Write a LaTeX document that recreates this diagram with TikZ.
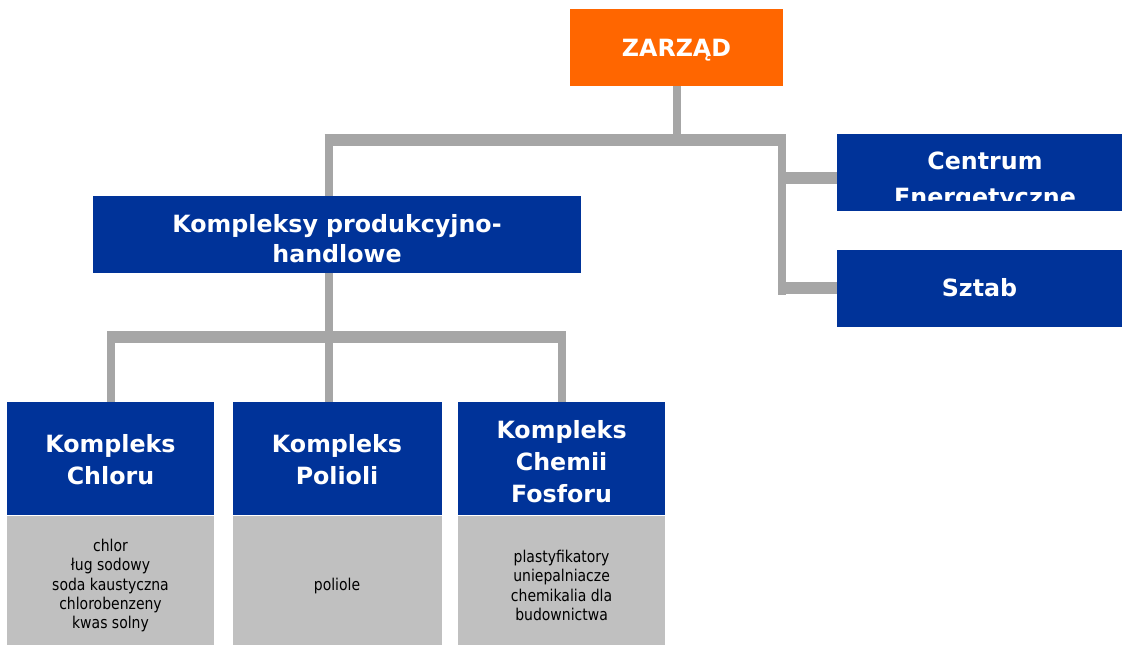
\documentclass[tikz,border=0pt]{standalone}
\usepackage{fontspec}
\setmainfont{DejaVu Sans}
\newfontfamily\listfont[FakeStretch=0.86]{DejaVu Sans}
\usetikzlibrary{positioning}
\definecolor{kblue}{HTML}{003399}
\definecolor{korange}{HTML}{FF6600}
\definecolor{klink}{HTML}{A6A6A6}
\definecolor{klist}{HTML}{C0C0C0}
\def\pu{0.75pt}
\newcommand\toplift[1]{\rule{0pt}{#1}}
\tikzset{
  orgbox/.style={rectangle, fill=kblue, text=white, align=center, inner sep=0pt,
    font=\bfseries\fontsize{17.8}{24}\selectfont},
  listbox/.style={rectangle, fill=klist, align=center, inner sep=0pt,
    font=\listfont\fontsize{12.2}{14.5}\selectfont},
  vlink/.style={draw=klink, line width=6pt},
  hlink/.style={draw=klink, line width=9pt}
}
\begin{document}
\begin{tikzpicture}[x=0.75pt,y=-0.75pt]
  \useasboundingbox (0,0) rectangle (1122,644);
  % top level
  \node[orgbox, fill=korange, minimum width=213*\pu, minimum height=77*\pu, text depth=0pt]
    (zarzad) at (676.5,47.5) {ZARZĄD};
  \node[orgbox, minimum width=488*\pu, minimum height=77*\pu,
    font=\bfseries\fontsize{17.8}{22.5}\selectfont]
    (kph) at (337,234.5) {\toplift{20.25pt}Kompleksy produkcyjno-\\handlowe};
  \node[orgbox, minimum width=285*\pu, minimum height=77*\pu]
    (centrum) at (979.5,172.5) {};
  \begin{scope}
    \clip (centrum.north west) rectangle ([yshift=8.25pt]centrum.south east);
    \node[orgbox, fill=none, font=\bfseries\fontsize{17.8}{27}\selectfont]
      (centrumtext) at (985,181) {Centrum\\Energetyczne};
  \end{scope}
  \node[orgbox, minimum width=285*\pu, minimum height=77*\pu, below=28.5pt of centrum]
    (sztab) {Sztab};
  % complexes
  \node[orgbox, minimum width=207*\pu, minimum height=113*\pu]
    (chlor) at (110.5,458.5) {\toplift{15.75pt}Kompleks\\Chloru};
  \node[orgbox, minimum width=209*\pu, minimum height=113*\pu, right=13.5pt of chlor]
    (poliol) {\toplift{15.75pt}Kompleks\\Polioli};
  \node[orgbox, minimum width=207*\pu, minimum height=113*\pu, right=12pt of poliol]
    (fosfor) {\toplift{18pt}Kompleks\\Chemii\\Fosforu};
  \node[listbox, minimum width=207*\pu, minimum height=140*\pu, below=0pt of chlor]
    (chlorlist) {chlor\\ług sodowy\\soda kaustyczna\\chlorobenzeny\\kwas solny};
  \node[listbox, minimum width=209*\pu, minimum height=140*\pu, below=0pt of poliol]
    (poliollist) {poliole};
  \node[listbox, minimum width=207*\pu, minimum height=140*\pu, below=0pt of fosfor]
    (fosforlist) {plastyfikatory\\uniepalniacze\\chemikalia dla\\budownictwa};
  % links
  \coordinate (topleft) at (328.5,140);
  \coordinate (topright) at (782,140);
  \coordinate (lowleft) at (111,337);
  \coordinate (lowright) at (562,337);
  \draw[vlink] (zarzad.south) -- (zarzad.south |- topleft);
  \draw[hlink] ([xshift=-3pt]topleft) -- ([xshift=3pt]topright);
  \draw[vlink] (topleft) -- (topleft |- kph.north);
  \draw[vlink] (topright) -- ([yshift=-4.9pt]topright |- sztab.west);
  \draw[hlink] ([xshift=-3pt,yshift=-4pt]topright |- centrum.west) -- ([yshift=-4pt]centrum.west);
  \draw[hlink] ([xshift=-3pt]topright |- sztab.west) -- (sztab.west);
  \draw[vlink] (kph.south -| topleft) -- (topleft |- lowleft);
  \draw[hlink] ([xshift=-3pt]lowleft) -- ([xshift=3pt]lowright);
  \draw[vlink] (lowleft) -- (lowleft |- chlor.north);
  \draw[vlink] (topleft |- lowleft) -- (topleft |- poliol.north);
  \draw[vlink] (lowright) -- (lowright |- fosfor.north);
\end{tikzpicture}
\end{document}
